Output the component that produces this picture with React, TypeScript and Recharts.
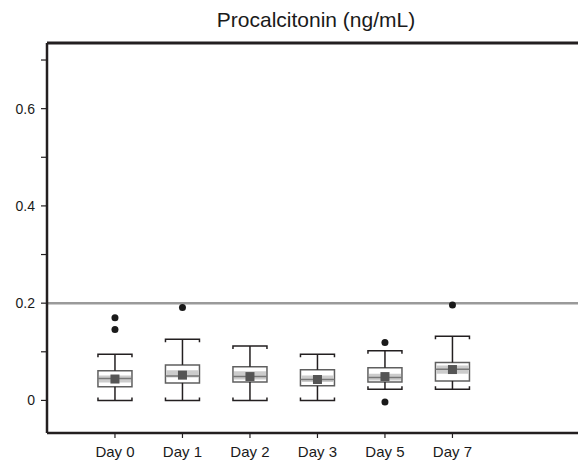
import { ComposedChart, XAxis, YAxis, Scatter, ReferenceLine, ReferenceArea } from "recharts";

const DAYS = ["Day 0", "Day 1", "Day 2", "Day 3", "Day 5", "Day 7"];
const WHISKER_LOW = [0.0, 0.0, 0.0, 0.0, 0.023, 0.023];
const Q1 = [0.028, 0.036, 0.038, 0.030, 0.038, 0.040];
const BAND_LOW = [0.037, 0.047, 0.043, 0.038, 0.041, 0.055];
const MEDIAN = [0.045, 0.050, 0.049, 0.043, 0.047, 0.064];
const BAND_HIGH = [0.051, 0.062, 0.060, 0.051, 0.055, 0.072];
const Q3 = [0.061, 0.073, 0.069, 0.063, 0.067, 0.078];
const WHISKER_HIGH = [0.095, 0.126, 0.112, 0.095, 0.102, 0.132];
const MEAN = [0.044, 0.052, 0.049, 0.043, 0.049, 0.0635];

const OUTLIER_DAY = [0, 0, 1, 4, 4, 5];
const OUTLIER_VALUE = [0.170, 0.146, 0.191, 0.119, -0.003, 0.196];

const Y_TICKS = [0, 0.1, 0.2, 0.3, 0.4, 0.5, 0.6, 0.7];
const Y_TICK_LABELS = ["0", "", "0.2", "", "0.4", "", "0.6", ""];
const CUTOFF = 0.2;

const X_DOMAIN: [number, number] = [-1.007, 6.86];
const Y_DOMAIN: [number, number] = [-0.067, 0.735];

const FONT = "'Liberation Sans', Arial, Helvetica, sans-serif";
const INK = "#231f20";
const HALF = 0.252;

const pts = (vals: number[]) => vals.map((y, i) => ({ x: i, y }));

const capTop = (p: any) => (
  <path d={`M${p.cx - 17},${p.cy + 3}V${p.cy}H${p.cx + 17}V${p.cy + 3}`} stroke={INK} strokeWidth={1.5} fill="none" />
);
const capBottom = (p: any) => (
  <path d={`M${p.cx - 17},${p.cy - 3}V${p.cy}H${p.cx + 17}V${p.cy - 3}`} stroke={INK} strokeWidth={1.5} fill="none" />
);
const meanSquare = (p: any) => <rect x={p.cx - 4.5} y={p.cy - 4.5} width={9} height={9} fill="#555555" />;
const dot = (p: any) => <circle cx={p.cx} cy={p.cy} r={3.5} fill="#1a1a1a" />;

export default function App() {
  const outliers = OUTLIER_VALUE.map((y, i) => ({ x: OUTLIER_DAY[i], y }));
  return (
    <div style={{ position: "absolute", left: 0, top: 0, width: 578, height: 460, background: "#fff", fontFamily: FONT }}>
      <div
        style={{
          position: "absolute",
          left: 316,
          top: 9,
          transform: "translateX(-50%)",
          whiteSpace: "nowrap",
          fontSize: 21,
          lineHeight: "21px",
          color: "#1a1a1a",
        }}
      >
        Procalcitonin (ng/mL)
      </div>
      <ComposedChart width={578} height={460} margin={{ top: 43, right: 0, bottom: 0, left: 0 }}>
        <XAxis
          type="number"
          dataKey="x"
          domain={X_DOMAIN}
          allowDataOverflow
          ticks={[0, 1, 2, 3, 4, 5]}
          tickFormatter={(i: number) => DAYS[i]}
          height={27}
          tickSize={5}
          tickMargin={8}
          axisLine={{ stroke: INK, strokeWidth: 2.5 }}
          tickLine={{ stroke: INK, strokeWidth: 1.2 }}
          tick={{ fill: "#1a1a1a", fontSize: 15, fontFamily: FONT }}
          interval={0}
        />
        <YAxis
          type="number"
          dataKey="y"
          domain={Y_DOMAIN}
          allowDataOverflow
          ticks={Y_TICKS}
          tickFormatter={(v: number) => Y_TICK_LABELS[Y_TICKS.indexOf(v)] ?? ""}
          width={47}
          tickSize={6}
          tickMargin={6}
          axisLine={{ stroke: INK, strokeWidth: 2.5 }}
          tickLine={{ stroke: INK, strokeWidth: 1.2 }}
          tick={{ fill: "#1a1a1a", fontSize: 14, fontFamily: FONT }}
          interval={0}
        />
        <ReferenceLine y={Y_DOMAIN[1]} stroke={INK} strokeWidth={3} ifOverflow="extendDomain" />
        <ReferenceLine y={CUTOFF} stroke="#9a9a9a" strokeWidth={2.5} />

        {DAYS.map((d, i) => (
          <ReferenceLine key={`wl-${d}`} segment={[{ x: i, y: WHISKER_LOW[i] }, { x: i, y: Q1[i] }]} stroke={INK} strokeWidth={1.5} />
        ))}
        {DAYS.map((d, i) => (
          <ReferenceLine key={`wh-${d}`} segment={[{ x: i, y: Q3[i] }, { x: i, y: WHISKER_HIGH[i] }]} stroke={INK} strokeWidth={1.5} />
        ))}
        {DAYS.map((d, i) => (
          <ReferenceArea key={`box-${d}`} x1={i - HALF} x2={i + HALF} y1={Q1[i]} y2={Q3[i]} fill="#ffffff" fillOpacity={1} stroke="#5f5f5f" strokeWidth={1.5} />
        ))}
        {DAYS.map((d, i) => (
          <ReferenceArea key={`band-${d}`} x1={i - HALF + 0.015} x2={i + HALF - 0.015} y1={BAND_LOW[i]} y2={BAND_HIGH[i]} fill="#cccccc" fillOpacity={1} stroke="none" />
        ))}
        {DAYS.map((d, i) => (
          <ReferenceLine key={`med-${d}`} segment={[{ x: i - HALF, y: MEDIAN[i] }, { x: i + HALF, y: MEDIAN[i] }]} stroke="#777777" strokeWidth={1.5} />
        ))}

        <Scatter data={pts(WHISKER_HIGH)} shape={capTop} isAnimationActive={false} />
        <Scatter data={pts(WHISKER_LOW)} shape={capBottom} isAnimationActive={false} />
        <Scatter data={pts(MEAN)} shape={meanSquare} isAnimationActive={false} />
        <Scatter data={outliers} shape={dot} isAnimationActive={false} />
      </ComposedChart>
    </div>
  );
}
